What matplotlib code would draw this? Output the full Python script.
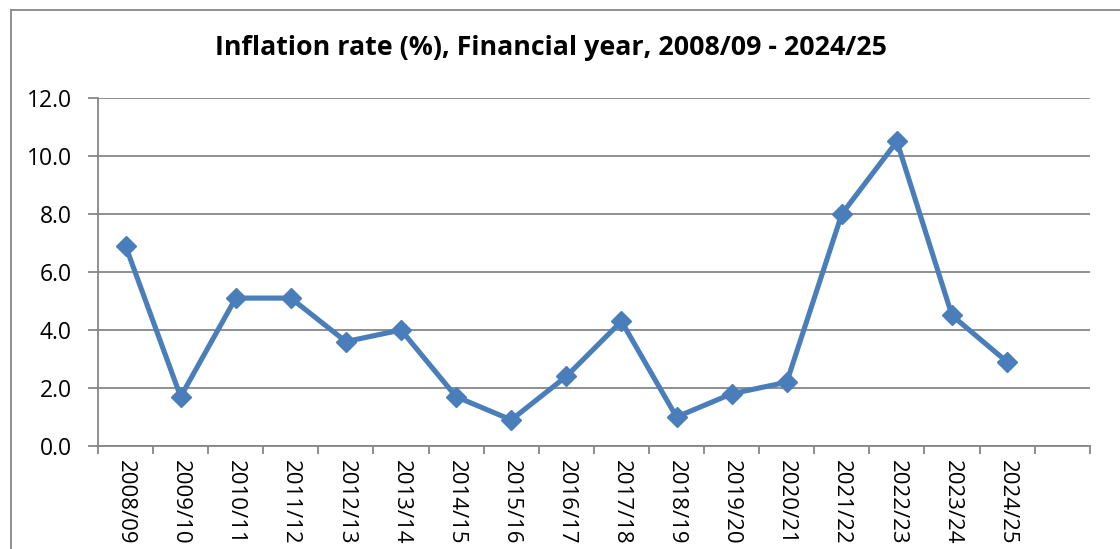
import matplotlib.pyplot as plt
from matplotlib.lines import Line2D

# --- data ---
years = ["2008/09", "2009/10", "2010/11", "2011/12", "2012/13", "2013/14",
         "2014/15", "2015/16", "2016/17", "2017/18", "2018/19", "2019/20",
         "2020/21", "2021/22", "2022/23", "2023/24", "2024/25"]
inflation = [6.9, 1.7, 5.1, 5.1, 3.6, 4.0, 1.7, 0.9, 2.4, 4.3,
             1.0, 1.8, 2.2, 8.0, 10.5, 4.5, 2.9]
n_slots = len(years) + 1  # excel axis leaves one empty slot at the end

plt.rcParams['font.family'] = ['Open Sans', 'DejaVu Sans']

fig = plt.figure(figsize=(11.2, 5.49), dpi=100)
ax = fig.add_axes([0.0875, 0.1876, 0.8855, 0.634])

grid_col = '#868686'
line_col = '#4A7EBB'

x = [i + 0.5 for i in range(len(years))]
ax.plot(x, inflation, color=line_col, lw=3.7, marker='D', markersize=10.2,
        markerfacecolor=line_col, markeredgecolor=line_col, markeredgewidth=1,
        zorder=3)

ax.set_xlim(0, n_slots)
ax.set_ylim(0, 12)
ax.set_yticks(range(0, 13, 2))
ax.set_yticklabels([f"{v:.1f}" for v in range(0, 13, 2)], fontsize=16.5)
ax.yaxis.grid(True, color=grid_col, lw=1.3)
ax.set_axisbelow(True)

# tick marks on category boundaries, labels in the middle
ax.set_xticks(range(0, n_slots + 1))
ax.set_xticklabels([])
ax.set_xticks(x, minor=True)
ax.set_xticklabels(years, minor=True, rotation=270, fontsize=16, va='top', ha='center')
ax.tick_params(axis='x', which='minor', length=0, pad=10)
ax.tick_params(axis='x', which='major', length=6, color=grid_col, width=1.3)
ax.tick_params(axis='y', length=7, color=grid_col, width=1.3, pad=12)

for side in ['top', 'right']:
    ax.spines[side].set_visible(False)
for side in ['left', 'bottom']:
    ax.spines[side].set_color(grid_col)
    ax.spines[side].set_linewidth(1.3)

fig.text(0.492, 0.912, "Inflation rate (%), Financial year, 2008/09 - 2024/25",
         ha='center', va='center', fontsize=19.3, fontweight='bold')

# chart area border (cut off at right and bottom like the screenshot)
fig.add_artist(Line2D([0.0095, 0.0095], [0, 0.982], color=grid_col, lw=1.3))
fig.add_artist(Line2D([0.0095, 1.0], [0.982, 0.982], color=grid_col, lw=1.3))

plt.savefig("out.png", dpi=100)
